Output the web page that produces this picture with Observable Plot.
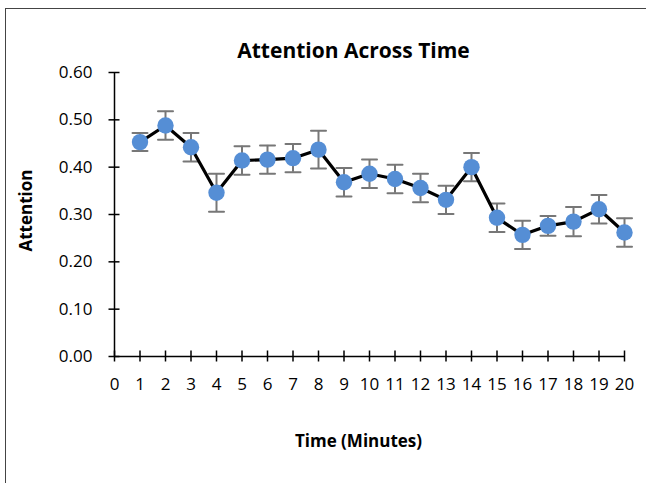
<!DOCTYPE html>
<html>
<head>
<meta charset="utf-8">
<script src="https://cdn.jsdelivr.net/npm/d3@7"></script>
<script src="https://cdn.jsdelivr.net/npm/@observablehq/plot@0.6"></script>
<style>
  html, body { margin: 0; padding: 0; background: #fff; }
  #wrap { position: relative; width: 646px; height: 483px; overflow: hidden; }
  #frame { position: absolute; left: 5px; top: 8px; right: -10px; bottom: -10px;
           border-left: 1.5px solid #444; border-top: 1.5px solid #444; pointer-events: none; }
</style>
</head>
<body>
<div id="wrap"><div id="frame"></div></div>
<script>
const minutes = [1,2,3,4,5,6,7,8,9,10,11,12,13,14,15,16,17,18,19,20];
const attention = [0.453,0.488,0.442,0.346,0.414,0.416,0.419,0.437,0.368,0.386,0.375,0.356,0.331,0.400,0.293,0.257,0.276,0.285,0.311,0.262];
const errors = [0.019,0.030,0.030,0.040,0.030,0.030,0.030,0.040,0.030,0.030,0.030,0.030,0.030,0.030,0.030,0.030,0.021,0.031,0.030,0.030];
const xTicks = [0,1,2,3,4,5,6,7,8,9,10,11,12,13,14,15,16,17,18,19,20];
const yTicks = [0,0.1,0.2,0.3,0.4,0.5,0.6];

const data = minutes.map((m, i) => ({m, v: attention[i], lo: attention[i] - errors[i], hi: attention[i] + errors[i]}));

const capShape = { draw(context, l) { context.moveTo(0, 0); context.lineTo(0, -l); } };

const font = "'Open Sans', Lato, sans-serif";

const chart = Plot.plot({
  width: 646,
  height: 483,
  marginLeft: 114,
  marginRight: 22,
  marginTop: 72,
  marginBottom: 127,
  style: { fontFamily: font, background: "transparent", overflow: "visible" },
  x: { domain: [0, 20], ticks: xTicks },
  y: { domain: [0, 0.6], ticks: yTicks },
  marks: [
    Plot.ruleX([0], { stroke: "#000", strokeWidth: 1.5 }),
    Plot.ruleY([0], { stroke: "#000", strokeWidth: 1.5 }),
    Plot.axisY(yTicks, { tickSize: 11, dx: 5.5, text: null, stroke: "#000", strokeWidth: 1.5, label: null }),
    Plot.axisY(yTicks, { tickSize: 0, tickPadding: 22, tickFormat: d3.format(".2f"), fontSize: 17, fill: "#000", label: null }),
    Plot.axisX(xTicks, { tickSize: 11, dy: -5.5, text: null, stroke: "#000", strokeWidth: 1.5, label: null }),
    Plot.axisX(xTicks, { tickSize: 0, tickPadding: 21, fontSize: 17, fill: "#000", label: null }),
    // error bars
    Plot.ruleX(data, { x: "m", y1: "lo", y2: "hi", stroke: "#777", strokeWidth: 2 }),
    Plot.vector(data, { x: "m", y: "hi", rotate: 90, length: 15, anchor: "middle", shape: capShape, stroke: "#777", strokeWidth: 2 }),
    Plot.vector(data, { x: "m", y: "lo", rotate: 90, length: 15, anchor: "middle", shape: capShape, stroke: "#777", strokeWidth: 2 }),
    // line and points
    Plot.line(data, { x: "m", y: "v", stroke: "#000", strokeWidth: 3.2 }),
    Plot.dot(data, { x: "m", y: "v", r: 8.2, fill: "#558ED5", stroke: "none" }),
    // title and axis labels
    Plot.text(["Attention Across Time"], { frameAnchor: "top", dx: -16, dy: -21.5, fontSize: 21, fontWeight: "bold", fill: "#000", lineAnchor: "middle" }),
    Plot.text(["Attention"], { frameAnchor: "left", dx: -88, dy: -4, rotate: -90, textAnchor: "middle", fontSize: 17, fontWeight: "bold", fill: "#000", lineAnchor: "middle" }),
    Plot.text(["Time (Minutes)"], { frameAnchor: "bottom", dx: -11, dy: 85, fontSize: 17, fontWeight: "bold", fill: "#000", lineAnchor: "middle" })
  ]
});

document.getElementById("wrap").prepend(chart);
</script>
</body>
</html>
